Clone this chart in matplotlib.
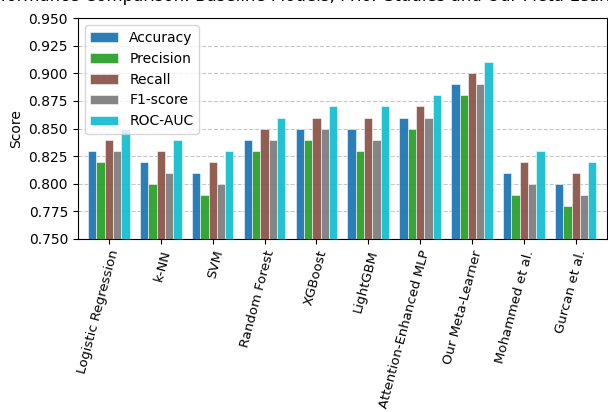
import matplotlib
matplotlib.use("Agg")
import matplotlib.pyplot as plt
import numpy as np

models = ["Logistic Regression", "k-NN", "SVM", "Random Forest", "XGBoost",
          "LightGBM", "Attention-Enhanced MLP", "Our Meta-Learner",
          "Mohammed et al.", "Gurcan et al."]
accuracy = [0.83, 0.82, 0.81, 0.84, 0.85, 0.85, 0.86, 0.89, 0.81, 0.80]
precision = [0.82, 0.80, 0.79, 0.83, 0.84, 0.83, 0.85, 0.88, 0.79, 0.78]
recall = [0.84, 0.83, 0.82, 0.85, 0.86, 0.86, 0.87, 0.90, 0.82, 0.81]
f1_score = [0.83, 0.81, 0.80, 0.84, 0.85, 0.84, 0.86, 0.89, 0.80, 0.79]
roc_auc = [0.85, 0.84, 0.83, 0.86, 0.87, 0.87, 0.88, 0.91, 0.83, 0.82]

metric_names = ["Accuracy", "Precision", "Recall", "F1-score", "ROC-AUC"]
series = [accuracy, precision, recall, f1_score, roc_auc]
colors = ["tab:blue", "tab:green", "tab:brown", "tab:gray", "tab:cyan"]

fig = plt.figure(figsize=(6.08, 4.12), dpi=100)
ax = fig.add_axes([0.128, 0.42, 0.87, 0.536])

x = np.arange(len(models))
width = 0.16
for i, (name, vals, c) in enumerate(zip(metric_names, series, colors)):
    ax.bar(x + (i - 2) * width, vals, width, label=name, color=c,
           edgecolor="white", linewidth=0.4, alpha=0.95, zorder=3)

ax.set_ylim(0.75, 0.95)
ax.set_yticks(np.arange(0.75, 0.951, 0.025))
ax.yaxis.set_major_formatter(matplotlib.ticker.FormatStrFormatter("%.3f"))
ax.set_xlim(-0.6, len(models) - 0.4)
ax.set_xticks(x)
ax.set_xticklabels(models, rotation=75, ha="right", rotation_mode="anchor",
                   fontsize=9.5)
ax.set_ylabel("Score")
ax.grid(axis="y", linestyle="--", alpha=0.7, zorder=0)
ax.legend(loc="upper left", fontsize=10)

fig.text(0.5, 1 - 1.3 / 412, "Performance Comparison: Baseline Models, Prior Studies and Our Meta-Learner",
         ha="center", va="baseline", fontsize=12)

fig.savefig("out.png", dpi=100)
